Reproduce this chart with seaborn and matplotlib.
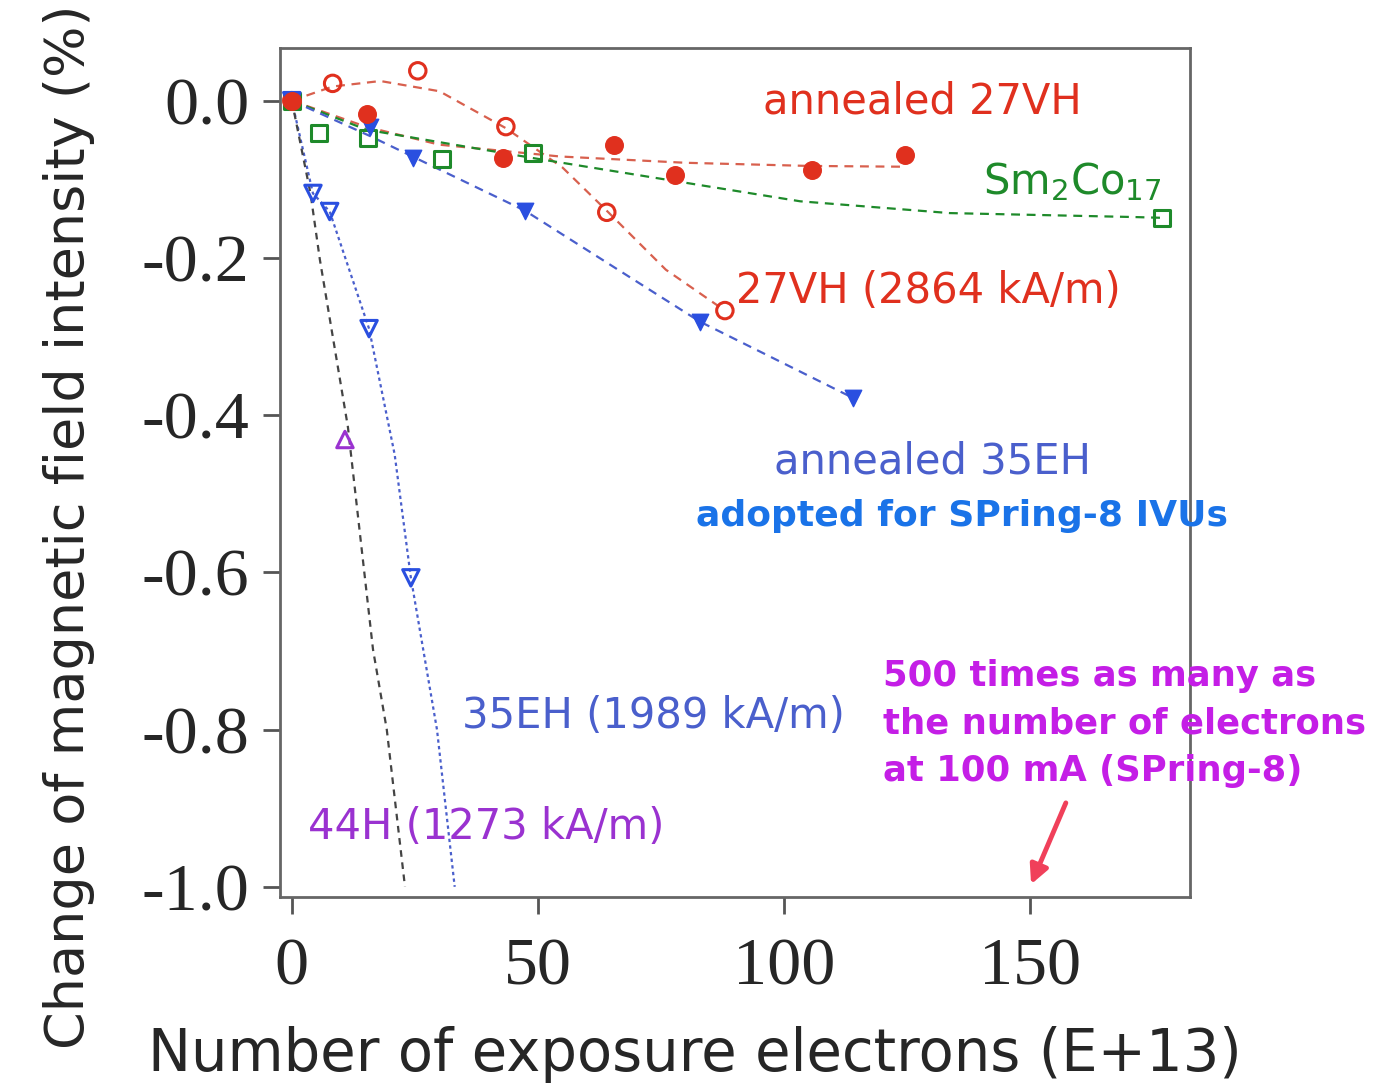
import matplotlib
matplotlib.use("Agg")
import matplotlib.pyplot as plt
import seaborn as sns
import pandas as pd

# ---------------- data ----------------
# annealed 27VH (filled circles)
ann27_x = [0, 15.2, 42.9, 65.4, 77.8, 105.7, 124.6]
ann27_y = [0, -0.017, -0.073, -0.057, -0.094, -0.088, -0.069]
ann27_fit_x = [0, 15, 30, 54.5, 80, 105, 124]
ann27_fit_y = [0, -0.033, -0.056, -0.071, -0.079, -0.083, -0.084]

# 27VH (open circles)
vh27_x = [0, 8.3, 25.6, 43.5, 64.0, 88.0]
vh27_y = [0, 0.022, 0.038, -0.033, -0.142, -0.267]
vh27_fit_x = [0, 8.3, 18, 30, 43.5, 55, 64.0, 76, 88.0]
vh27_fit_y = [0, 0.018, 0.025, 0.012, -0.035, -0.085, -0.14, -0.215, -0.267]

# Sm2Co17 (open squares)
smco_x = [0, 5.5, 15.4, 30.5, 49.0, 176.8]
smco_y = [0, -0.041, -0.047, -0.074, -0.067, -0.149]
smco_fit_x = [0, 15.2, 49.0, 103.3, 133.7, 171, 176.8]
smco_fit_y = [0, -0.037, -0.073, -0.128, -0.143, -0.148, -0.149]

# annealed 35EH (filled down triangles)
ann35_x = [0, 15.9, 24.6, 47.4, 82.9, 114.0]
ann35_y = [0, -0.033, -0.073, -0.140, -0.281, -0.378]
ann35_fit_x = [0, 15.9, 47.4, 82.9, 114.0]
ann35_fit_y = [0, -0.045, -0.140, -0.281, -0.378]

# 35EH (open down triangles)
eh35_x = [0, 4.3, 7.7, 15.7, 24.2]
eh35_y = [0, -0.118, -0.141, -0.290, -0.607]
eh35_fit_x = [0, 4.3, 7.7, 15.7, 20.9, 24.2, 29.5, 33.1]
eh35_fit_y = [0, -0.118, -0.141, -0.290, -0.45, -0.607, -0.80, -1.0]

# 44H (open up triangle)
h44_x = [10.8]
h44_y = [-0.431]
h44_fit_x = [0, 3.8, 5.7, 11.4, 16.5, 19.3, 23.0]
h44_fit_y = [0, -0.118, -0.202, -0.415, -0.698, -0.80, -1.0]

x_ticks = [0, 50, 100, 150]
x_tick_labels = ["0", "50", "100", "150"]
y_ticks = [0.0, -0.2, -0.4, -0.6, -0.8, -1.0]
y_tick_labels = ["0.0", "-0.2", "-0.4", "-0.6", "-0.8", "-1.0"]

# ---------------- styling ----------------
sns.set_theme(style="white")
plt.rcParams['font.family'] = ['DejaVu Sans']

RED = "#e0301e"
RED_LINE = "#d8604e"
GREEN = "#1e8a2a"
BLUE_F = "#2a4fe0"
BLUE_T = "#4a5fcc"
BLUE_BOLD = "#1a73e8"
PURPLE = "#9a32d0"
MAGENTA = "#c41ee6"
GRAY = "#444444"

fig = plt.figure(figsize=(13.84, 10.86), dpi=100)
ax = fig.add_axes([0.2023, 0.174, 0.8598 - 0.2023, 0.9558 - 0.174])

def fitline(x, y, color, dashes, lw=1.6):
    df = pd.DataFrame({"x": x, "y": y})
    sns.lineplot(data=df, x="x", y="y", ax=ax, color=color, lw=lw,
                 sort=False, estimator=None, dashes=False, zorder=2)
    ax.lines[-1].set_dashes(dashes)

fitline(ann27_fit_x, ann27_fit_y, RED_LINE, (4, 3))
fitline(vh27_fit_x, vh27_fit_y, RED_LINE, (4, 3))
fitline(smco_fit_x, smco_fit_y, GREEN, (4, 3))
fitline(ann35_fit_x, ann35_fit_y, BLUE_T, (4, 3))
fitline(eh35_fit_x, eh35_fit_y, BLUE_T, (1.5, 1.5))
fitline(h44_fit_x, h44_fit_y, GRAY, (3, 2.5))

def pts(x, y, marker, color, filled, size=150):
    df = pd.DataFrame({"x": x, "y": y})
    if filled:
        sns.scatterplot(data=df, x="x", y="y", ax=ax, marker=marker, s=size,
                        color=color, edgecolor=color, linewidth=1, zorder=3)
    else:
        sns.scatterplot(data=df, x="x", y="y", ax=ax, marker=marker, s=size,
                        facecolors="none", edgecolor=color, linewidth=2.2, zorder=3)

pts(smco_x, smco_y, "s", GREEN, False, 130)
pts(vh27_x, vh27_y, "o", RED, False, 140)
pts(eh35_x, eh35_y, "v", BLUE_F, False, 140)
pts(h44_x, h44_y, "^", PURPLE, False, 140)
pts(ann35_x, ann35_y, "v", BLUE_F, True, 140)
pts(ann27_x, ann27_y, "o", RED, True, 160)

ax.set_xlim(-2.4, 182.5)
ax.set_ylim(-1.013, 0.067)
ax.set_xticks(x_ticks)
ax.set_xticklabels(x_tick_labels, family=['Liberation Serif'], fontsize=49)
ax.set_yticks(y_ticks)
ax.set_yticklabels(y_tick_labels, family=['Liberation Serif'], fontsize=49)
ax.tick_params(axis='both', direction='out', length=12, width=2, color="#555555",
               left=True, bottom=True)
ax.tick_params(axis='x', pad=17)
ax.tick_params(axis='y', pad=10)
for s in ax.spines.values():
    s.set_color("#666666")
    s.set_linewidth(2)
ax.set_xlabel("Number of exposure electrons (E+13)", fontsize=41.5)
ax.set_ylabel("Change of magnetic field intensity (%)", fontsize=39)
ax.xaxis.set_label_coords(0.456, -0.152)
ax.yaxis.set_label_coords(-0.203, 0.436)

# ---------------- annotations ----------------
def ftext(px, py, s, color, size, weight="normal", ha="left"):
    fig.text(px / 1384, 1 - py / 1086, s, color=color, fontsize=size,
             fontweight=weight, ha=ha, va="center")

ftext(763, 102, "annealed 27VH", RED, 30)
ftext(983, 182, "Sm$_2$Co$_{17}$", GREEN, 30)
ftext(736, 291, "27VH (2864 kA/m)", RED, 30)
ftext(774, 461, "annealed 35EH", BLUE_T, 30)
ftext(696, 516, "adopted for SPring-8 IVUs", BLUE_BOLD, 26, "bold")
ftext(462, 716, "35EH (1989 kA/m)", BLUE_T, 30)
ftext(308, 827, "44H (1273 kA/m)", PURPLE, 30)
ftext(883, 676, "500 times as many as", MAGENTA, 25.5, "bold")
ftext(883, 723, "the number of electrons", MAGENTA, 25.5, "bold")
ftext(883, 771, "at 100 mA (SPring-8)", MAGENTA, 25.5, "bold")

ax.annotate("", xy=(150, -1.0), xytext=(157.5, -0.89),
            arrowprops=dict(arrowstyle="-|>", color="#f0405a", lw=3.5,
                            mutation_scale=28), annotation_clip=False)

fig.savefig("out.png", dpi=100)
